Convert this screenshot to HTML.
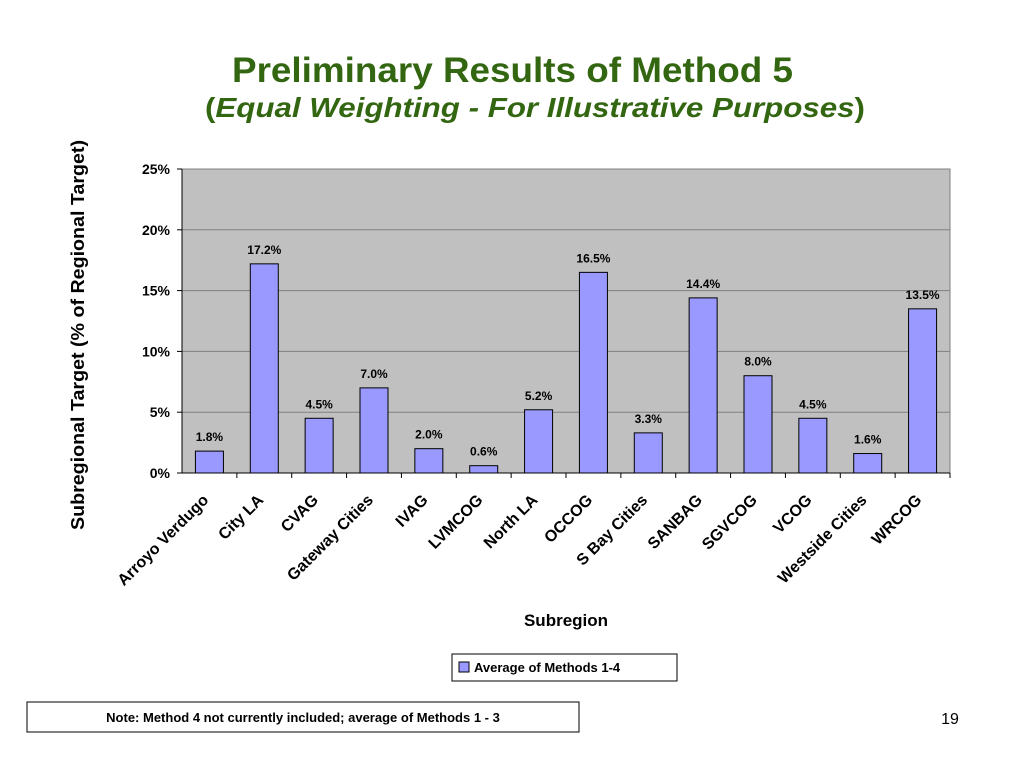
<!DOCTYPE html>
<html><head><meta charset="utf-8"><style>
body{margin:0;background:#fff;width:1024px;height:768px;overflow:hidden;font-family:"Liberation Sans",Arial,sans-serif}
</style></head><body>
<svg width="1024" height="768" xmlns="http://www.w3.org/2000/svg" font-family="Liberation Sans, Arial, sans-serif">
<text x="232" y="82" textLength="561" lengthAdjust="spacingAndGlyphs" font-size="35" font-weight="bold" fill="#336611">Preliminary Results of Method 5</text>
<text x="205" y="117" textLength="660" lengthAdjust="spacingAndGlyphs" font-size="28" font-weight="bold" fill="#336611">(<tspan font-style="italic">Equal Weighting - For Illustrative Purposes</tspan>)</text>
<rect x="182" y="169" width="768" height="304" fill="#c0c0c0" stroke="#808080"/>
<g id="grid"></g><g id="bars"></g><g id="xlabels"></g>
<line x1="182" y1="169" x2="182" y2="473" stroke="#000"/>
<line x1="182" y1="473" x2="950" y2="473" stroke="#000"/>
<text transform="translate(84,335) rotate(-90)" text-anchor="middle" textLength="390" lengthAdjust="spacingAndGlyphs" font-size="18" font-weight="bold">Subregional Target (% of Regional Target)</text>
<text x="566" y="626" text-anchor="middle" font-size="17" font-weight="bold">Subregion</text>
<g>
<rect x="452" y="654" width="225" height="27" fill="#fff" stroke="#000"/>
<rect x="459" y="662" width="10" height="10" fill="#9999ff" stroke="#000"/>
<text x="474" y="672" font-size="13" font-weight="bold">Average of Methods 1-4</text>
</g>
<rect x="27" y="702" width="552" height="30" fill="#fff" stroke="#000"/>
<text x="303" y="722" text-anchor="middle" font-size="13" font-weight="bold">Note: Method 4 not currently included; average of Methods 1 - 3</text>
<text x="950" y="724" text-anchor="middle" font-size="16">19</text>
</svg>
<script>
const categories=["Arroyo Verdugo","City LA","CVAG","Gateway Cities","IVAG","LVMCOG","North LA","OCCOG","S Bay Cities","SANBAG","SGVCOG","VCOG","Westside Cities","WRCOG"];
const values=[1.8,17.2,4.5,7.0,2.0,0.6,5.2,16.5,3.3,14.4,8.0,4.5,1.6,13.5];
const yTicks=[0,5,10,15,20,25];
const NS="http://www.w3.org/2000/svg";
const x0=182,x1=950,y0=473,y1=169,yMax=25;
const step=(x1-x0)/categories.length;
function y(v){return y0-(v/yMax)*(y0-y1);}
function xc(i){return x0+step*(i+0.5);}
function mk(t,a,p){const e=document.createElementNS(NS,t);for(const k in a)e.setAttribute(k,a[k]);p.appendChild(e);return e;}
const grid=document.getElementById('grid'),bars=document.getElementById('bars'),xl=document.getElementById('xlabels');
yTicks.forEach(t=>{
  if(t>0&&t<25){const l=mk('line',{x1:x0,x2:x1,y1:y(t),y2:y(t),stroke:'#808080'},grid);
  
  }
  const tk=mk('line',{x1:x0-5,x2:x0,y1:y(t),y2:y(t),stroke:'#000'},grid);
  
  
  const tx=mk('text',{x:x0-12,y:y(t)+5,'text-anchor':'end','font-size':14,'font-weight':'bold'},grid);
  tx.textContent=t+'%';
  
  
});
categories.forEach((c,i)=>{
  const cx=xc(i),bw=28;
  const r=mk('rect',{x:cx-bw/2,y:y(values[i]),width:bw,height:y0-y(values[i]),fill:'#9999ff',stroke:'#000'},bars);
  
  
  const v=mk('text',{x:cx,y:y(values[i])-10,'text-anchor':'middle','font-size':12,'font-weight':'bold'},bars);
  v.textContent=values[i].toFixed(1)+'%';
  
  
  const tk=mk('line',{x1:x0+step*(i+1),x2:x0+step*(i+1),y1:y0,y2:y0+5,stroke:'#000'},xl);
  
  
  const t=mk('text',{transform:`translate(${cx},${y0+28}) rotate(-45)`,'text-anchor':'end','font-size':16,'font-weight':'bold'},xl);
  t.textContent=c;
  
  
});
</script>
</body></html>
